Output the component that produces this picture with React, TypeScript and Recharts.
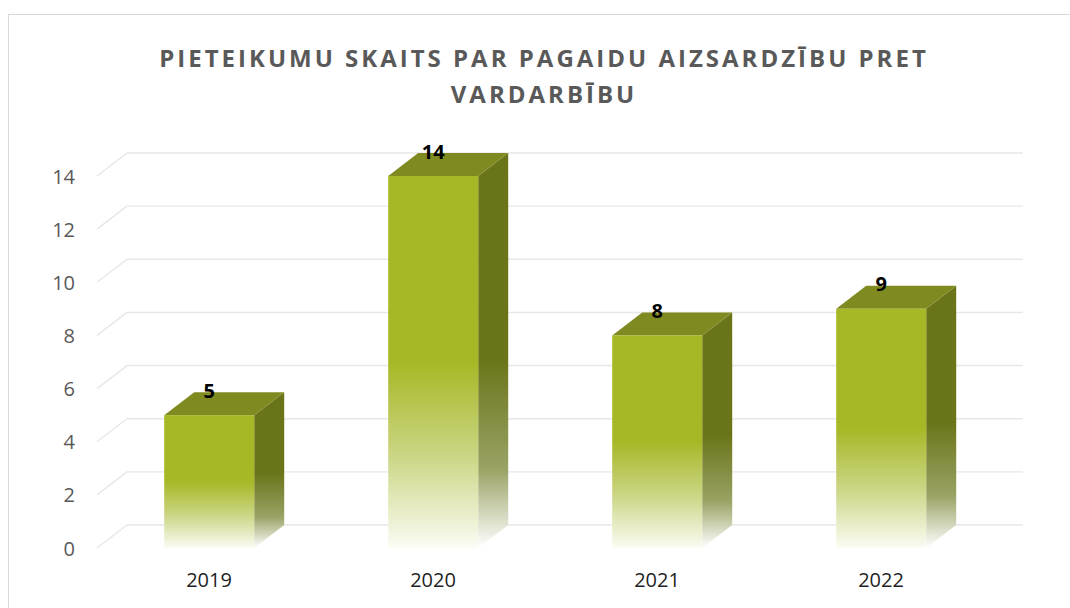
import React from 'react';
import { BarChart, Bar, XAxis, YAxis, CartesianGrid, LabelList } from 'recharts';

// values
const years = ['2019', '2020', '2021', '2022'];
const counts = [5, 14, 8, 9];
const yTicks = [0, 2, 4, 6, 8, 10, 12, 14];

const data = years.map((year, i) => ({ year, count: counts[i] }));

// fake 3d depth of the columns and the back wall
const DX = 30;
const DY = 23;

const FRONT = '#a7b826';
const SIDE = '#6a7519';
const TOP = '#7f8b21';

const GridLine = (props: any) => {
  const { x1, y1, x2, y2 } = props;
  return (
    <g>
      <line x1={x1} y1={y1} x2={x1 + DX} y2={y1 - DY} stroke="#e7e7e7" strokeWidth={1.4} />
      <line x1={x1 + DX} y1={y1 - DY} x2={x2 + DX} y2={y2 - DY} stroke="#e7e7e7" strokeWidth={1.4} />
    </g>
  );
};

const Column = (props: any) => {
  const { x, y, width, height, index } = props;
  const fId = `front-${index}`;
  const sId = `side-${index}`;
  return (
    <g>
      <defs>
        <linearGradient id={fId} x1="0" y1="0" x2="0" y2="1">
          <stop offset="0" stopColor={FRONT} />
          <stop offset="0.5" stopColor={FRONT} />
          <stop offset="0.75" stopColor="#cbd583" />
          <stop offset="1" stopColor="#fbfcf4" />
        </linearGradient>
        <linearGradient id={sId} x1="0" y1="0" x2="0" y2="1">
          <stop offset="0" stopColor={SIDE} />
          <stop offset="0.52" stopColor={SIDE} />
          <stop offset="0.8" stopColor="#9aa264" />
          <stop offset="1" stopColor="#ffffff" />
        </linearGradient>
      </defs>
      <polygon
        points={`${x + width},${y} ${x + width + DX},${y - DY} ${x + width + DX},${y + height - DY} ${x + width},${y + height}`}
        fill={`url(#${sId})`}
      />
      <polygon
        points={`${x},${y} ${x + DX},${y - DY} ${x + width + DX},${y - DY} ${x + width},${y}`}
        fill={TOP}
      />
      <rect x={x} y={y} width={width} height={height} fill={`url(#${fId})`} />
    </g>
  );
};

const YTick = (props: any) => {
  const { x, y, payload } = props;
  return (
    <text x={x - 14} y={y} textAnchor="end" dominantBaseline="central" fill="#595959" fontSize={20} fontFamily="'Open Sans', sans-serif">
      {payload.value}
    </text>
  );
};

const XTick = (props: any) => {
  const { x, y, payload } = props;
  return (
    <text x={x} y={y + 23} textAnchor="middle" dominantBaseline="central" fill="#1f1f1f" fontSize={20} fontFamily="'Open Sans', sans-serif">
      {payload.value}
    </text>
  );
};

const ValueLabel = (props: any) => {
  const { x, y, width, value } = props;
  return (
    <text x={x + width / 2} y={y - 25} textAnchor="middle" dominantBaseline="central" fill="#000" fontSize={20} fontWeight={700} fontFamily="'Open Sans', sans-serif">
      {value}
    </text>
  );
};

export default function App() {
  return (
    <div style={{ position: 'fixed', left: 0, top: 0, width: 1070, height: 608, overflow: 'hidden', background: '#fff' }}>
      <div
        style={{
          position: 'absolute',
          left: 8,
          top: 14,
          width: 1072,
          height: 620,
          border: '1px solid #d9d9d9',
          boxSizing: 'border-box',
        }}
      />
      <div
        style={{
          position: 'absolute',
          left: 8,
          top: 40,
          width: 1072,
          textAlign: 'center',
          fontFamily: "'Open Sans', sans-serif",
          fontWeight: 700,
          fontSize: 24,
          lineHeight: '36px',
          letterSpacing: 3,
          color: '#595959',
        }}
      >
        PIETEIKUMU SKAITS PAR PAGAIDU AIZSARDZĪBU PRET
        <br />
        VARDARBĪBU
      </div>
      <div style={{ position: 'absolute', left: 0, top: 0 }}>
        <BarChart width={1070} height={608} data={data} margin={{ top: 176, right: 77, bottom: 20, left: 37 }} barCategoryGap="30%">
          <CartesianGrid vertical={false} horizontal={GridLine} />
          <XAxis dataKey="year" axisLine={false} tickLine={false} height={40} tick={XTick} />
          <YAxis domain={[0, 14]} ticks={yTicks} axisLine={false} tickLine={false} width={60} tick={YTick} interval={0} />
          <Bar dataKey="count" shape={Column} isAnimationActive={false}>
            <LabelList dataKey="count" content={ValueLabel} />
          </Bar>
        </BarChart>
      </div>
    </div>
  );
}
